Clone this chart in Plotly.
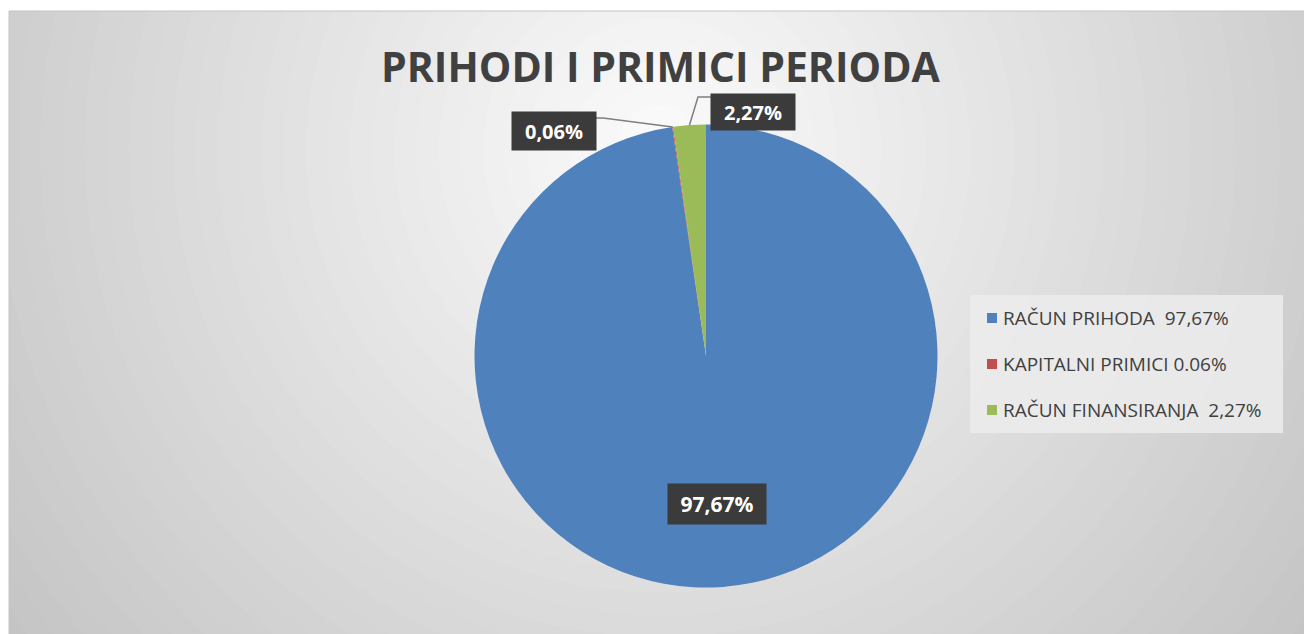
import math
import plotly.graph_objects as go

# ---------------- data ----------------
categories = ["RAČUN PRIHODA", "KAPITALNI PRIMICI", "RAČUN FINANSIRANJA"]
values = [97.67, 0.06, 2.27]
data_labels = ["97,67%", "0,06%", "2,27%"]
legend_labels = ["RAČUN PRIHODA  97,67%", "KAPITALNI PRIMICI 0.06%", "RAČUN FINANSIRANJA  2,27%"]
colors = ["#4f81bd", "#c0504d", "#9bbb59"]
title_text = "PRIHODI I PRIMICI PERIODA"

# ---------------- layout helpers ----------------
W, H = 1304, 634
def px(x):
    return x / W
def py(y):
    return 1 - y / H

CX, CY, R = 706, 356, 231.5  # pie geometry in pixels

shapes = []
# radial gradient background
GX, GY, GD = 660, 150, 850
N = 48
c_in, c_out = 252, 194
for i in range(N):
    t = 1.25 * (1 - i / N)
    g = round(c_in - (c_in - c_out) * min(t, 1.1))
    g = max(0, min(255, g))
    r = t * GD
    shapes.append(dict(type="circle", xref="paper", yref="paper",
                       x0=px(GX - r), x1=px(GX + r), y0=py(GY + r), y1=py(GY - r),
                       fillcolor=f"rgb({g},{g},{g})", line=dict(width=0), layer="below"))
# white page margins (top / left)
shapes.append(dict(type="rect", xref="paper", yref="paper", x0=-0.1, x1=1.1, y0=py(11), y1=1.2,
                   fillcolor="white", line=dict(width=0), layer="below"))
shapes.append(dict(type="rect", xref="paper", yref="paper", x0=-0.1, x1=px(9), y0=-0.2, y1=1.2,
                   fillcolor="white", line=dict(width=0), layer="below"))
shapes.append(dict(type="rect", xref="paper", yref="paper", x0=px(9), x1=px(1310), y0=py(640), y1=py(11),
                   fillcolor="rgba(0,0,0,0)", line=dict(width=1, color="#c4c4c4"), layer="below"))
# legend box
LX0, LY0, LX1, LY1 = 970, 295, 1283, 433
shapes.append(dict(type="rect", xref="paper", yref="paper", x0=px(LX0), x1=px(LX1), y0=py(LY1), y1=py(LY0),
                   fillcolor="rgba(236,236,236,0.85)", line=dict(width=0), layer="below"))

annotations = []
# legend entries
row_y0, row_gap = 318, 46
for i, (lab, col) in enumerate(zip(legend_labels, colors)):
    yy = row_y0 + i * row_gap
    shapes.append(dict(type="rect", xref="paper", yref="paper",
                       x0=px(987), x1=px(997), y0=py(yy + 5), y1=py(yy - 5),
                       fillcolor=col, line=dict(width=0)))
    annotations.append(dict(x=px(1001), y=py(yy), xref="paper", yref="paper",
                            text=lab, showarrow=False, xanchor="left", yanchor="middle",
                            font=dict(family="Open Sans", size=19, color="#404040")))

# data labels from slice angles
total = sum(values)
cum = 0
mids = []
for v in values:
    mids.append((cum + v / 2) / total * 2 * math.pi)
    cum += v

def edge(a, f=1.0):
    return CX + f * R * math.sin(a), CY - f * R * math.cos(a)

label_bg = "#3b3b3b"
# big slice: inside label
bx, by = edge(mids[0], 0.64)
annotations.append(dict(x=px(bx), y=py(by), xref="paper", yref="paper", text=data_labels[0],
                        showarrow=False, bgcolor=label_bg, width=96, height=38,
                        xanchor="center", yanchor="middle",
                        font=dict(family="Open Sans", size=21, color="white", weight="bold")))
# small slices: outside labels with leader lines
out_boxes = [None, (554, 131, 82, 36, "right"), (753, 112, 82, 34, "left")]
for i in (1, 2):
    lx, ly, bw, bh, side = out_boxes[i]
    ex, ey = edge(mids[i])
    if side == "right":
        bxe, bye = lx + bw / 2, ly - 13
        elbow = (bxe + 8, bye)
    else:
        bxe, bye = lx - bw / 2, ly - 15
        elbow = (bxe - 14, bye)
    path = f"M {px(ex)},{py(ey)} L {px(elbow[0])},{py(elbow[1])} L {px(bxe)},{py(bye)}"
    shapes.append(dict(type="path", xref="paper", yref="paper", path=path,
                       line=dict(color="#7f7f7f", width=1.5)))
    annotations.append(dict(x=px(lx), y=py(ly), xref="paper", yref="paper", text=data_labels[i],
                            showarrow=False, bgcolor=label_bg, width=bw, height=bh,
                            xanchor="center", yanchor="middle",
                            font=dict(family="Open Sans", size=20, color="white", weight="bold")))

# title
annotations.append(dict(x=px(660), y=py(66), xref="paper", yref="paper", text=title_text,
                        showarrow=False, xanchor="center", yanchor="middle",
                        font=dict(family="Open Sans", size=41, color="#404040", weight="bold")))

fig = go.Figure(go.Pie(
    labels=categories, values=values, sort=False, direction="clockwise", rotation=0,
    marker=dict(colors=colors, line=dict(width=0)),
    textinfo="none", hoverinfo="label+percent", showlegend=False,
    domain=dict(x=[px(CX - R), px(CX + R)], y=[py(CY + R), py(CY - R)]),
))
fig.update_layout(
    width=W, height=H, margin=dict(l=0, r=0, t=0, b=0),
    paper_bgcolor="white", plot_bgcolor="rgba(0,0,0,0)",
    shapes=shapes, annotations=annotations, showlegend=False,
)
fig.write_html("out.html", config={"displayModeBar": False},
               post_script="document.body.style.margin='0';document.body.style.overflow='hidden';")
